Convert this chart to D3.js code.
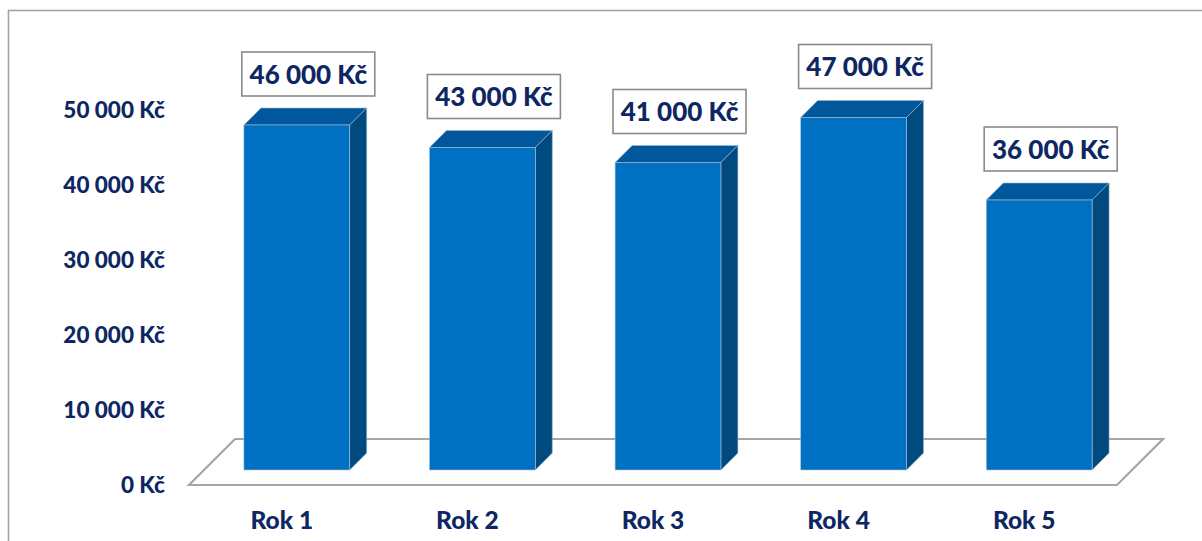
<!DOCTYPE html>
<html>
<head>
<meta charset="utf-8">
<script src="https://cdn.jsdelivr.net/npm/d3@7"></script>
<style>
  html, body { margin: 0; padding: 0; background: #fff; }
  svg { display: block; }
  text { font-family: Lato, "Open Sans", sans-serif; font-weight: 900; fill: #0e2763; }
</style>
</head>
<body>
<svg id="chart" width="1202" height="541"></svg>
<script>
// Yearly amounts (CZK)
const categories = ["Rok 1", "Rok 2", "Rok 3", "Rok 4", "Rok 5"];
const values = [46000, 43000, 41000, 47000, 36000];
const yTicks = [0, 10000, 20000, 30000, 40000, 50000];

const fmt = v => d3.format(",")(v).replace(/,/g, " ") + " Kč";

const svg = d3.select("#chart");

// outer frame
svg.append("rect")
  .attr("x", 8.5).attr("y", 10.5)
  .attr("width", 1230).attr("height", 560)
  .attr("fill", "none").attr("stroke", "#a3a3a3").attr("stroke-width", 1.6);

// front plane scales
const x = d3.scaleBand().domain(categories).range([189, 1117])
  .paddingInner(0.43).paddingOuter(0.215);
const y = d3.scaleLinear().domain([0, 50000]).range([485, 110]);

// oblique depth: floor depth and the bar slab inside it
const floorDepth = 46, z0 = 15, z1 = 32;
const P = (px, py, z) => [px + z, py - z];
const poly = pts => "M" + pts.map(p => p.join(",")).join("L") + "Z";

// floor
const fx0 = x.range()[0], fx1 = x.range()[1], fy = y(0);
svg.append("path")
  .attr("d", poly([P(fx0, fy, 0), P(fx1, fy, 0), P(fx1, fy, floorDepth), P(fx0, fy, floorDepth)]))
  .attr("fill", "none").attr("stroke", "#a6a6a6").attr("stroke-width", 2.2)
  .attr("stroke-linejoin", "miter");

// y axis labels
svg.append("g").selectAll("text").data(yTicks).join("text")
  .attr("x", 165).attr("y", d => y(d) + 8)
  .attr("text-anchor", "end")
  .attr("font-size", 22.5)
  .text(fmt);

// bars
const bars = svg.append("g").selectAll("g").data(values).join("g");
bars.each(function(v, i) {
  const g = d3.select(this);
  const xl = x(categories[i]), xr = xl + x.bandwidth();
  const yb = y(0), yt = y(v);
  // top
  g.append("path")
    .attr("d", poly([P(xl, yt, z0), P(xr, yt, z0), P(xr, yt, z1), P(xl, yt, z1)]))
    .attr("fill", "#00579b").attr("stroke", "#9fb6cc").attr("stroke-width", 0.6);
  // side
  g.append("path")
    .attr("d", poly([P(xr, yt, z0), P(xr, yb, z0), P(xr, yb, z1), P(xr, yt, z1)]))
    .attr("fill", "#004a80").attr("stroke", "#9fb6cc").attr("stroke-width", 0.6);
  // front
  const a = P(xl, yt, z0), b = P(xr, yb, z0);
  g.append("rect")
    .attr("x", a[0]).attr("y", a[1]).attr("width", b[0] - a[0]).attr("height", b[1] - a[1])
    .attr("fill", "#0070c3").attr("stroke", "#a9bfd3").attr("stroke-width", 0.6);
});

// value labels in boxes above each bar
const boxW = 133, boxH = 44;
const labels = svg.append("g").selectAll("g").data(values).join("g")
  .attr("transform", (v, i) => {
    const cx = x(categories[i]) + x.bandwidth() / 2 + (z0 + z1) / 2 + 3;
    const top = y(v) - z1;
    return `translate(${cx},${top - 12 - boxH / 2})`;
  });
labels.append("rect")
  .attr("x", -boxW / 2).attr("y", -boxH / 2).attr("width", boxW).attr("height", boxH)
  .attr("fill", "#fff").attr("stroke", "#8a8a8a").attr("stroke-width", 1.6);
labels.append("text")
  .attr("text-anchor", "middle").attr("y", 9.5)
  .attr("font-size", 26)
  .text(fmt);

// category labels along the front edge of the floor
svg.append("g").selectAll("text").data(categories).join("text")
  .attr("x", d => x(d) + x.bandwidth() / 2)
  .attr("y", 529)
  .attr("text-anchor", "middle")
  .attr("font-size", 24.5)
  .text(d => d);
</script>
</body>
</html>
